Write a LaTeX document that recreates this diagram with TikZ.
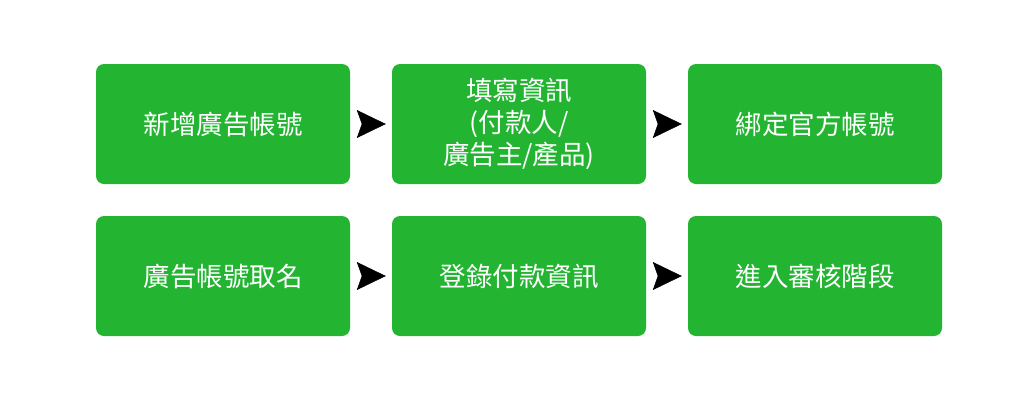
\documentclass[tikz,border=0pt]{standalone}
\usepackage{fontspec}
\setmainfont{Noto Sans CJK TC}
\usetikzlibrary{arrows.meta}
\definecolor{boxgreen}{HTML}{23B532}
\tikzset{
  stepbox/.style={rectangle, rounded corners=8pt, fill=boxgreen, draw=none,
    minimum width=254pt, minimum height=120pt, inner sep=0pt, text=white,
    align=center, font=\fontsize{26.5}{32}\selectfont},
  flowarrow/.style={-{Stealth[length=29pt,width=28pt,inset=5pt]}, line width=0.5pt, black,
    shorten <=20pt, shorten >=6pt}
}
\begin{document}
\begin{tikzpicture}[x=1pt,y=1pt]
\useasboundingbox (0,0) rectangle (1018,-400);
\node[stepbox] (a1) at (223,-124) {新增廣告帳號};
\node[stepbox] (a2) at (519,-124) {填寫資訊\\(付款人/\\廣告主/產品)};
\node[stepbox] (a3) at (815,-124) {綁定官方帳號};
\node[stepbox] (b1) at (223,-276) {廣告帳號取名};
\node[stepbox] (b2) at (519,-276) {登錄付款資訊};
\node[stepbox] (b3) at (815,-276) {進入審核階段};
\draw[flowarrow] (a1.east) -- (a2.west);
\draw[flowarrow] (a2.east) -- (a3.west);
\draw[flowarrow] (b1.east) -- (b2.west);
\draw[flowarrow] (b2.east) -- (b3.west);
\end{tikzpicture}
\end{document}
